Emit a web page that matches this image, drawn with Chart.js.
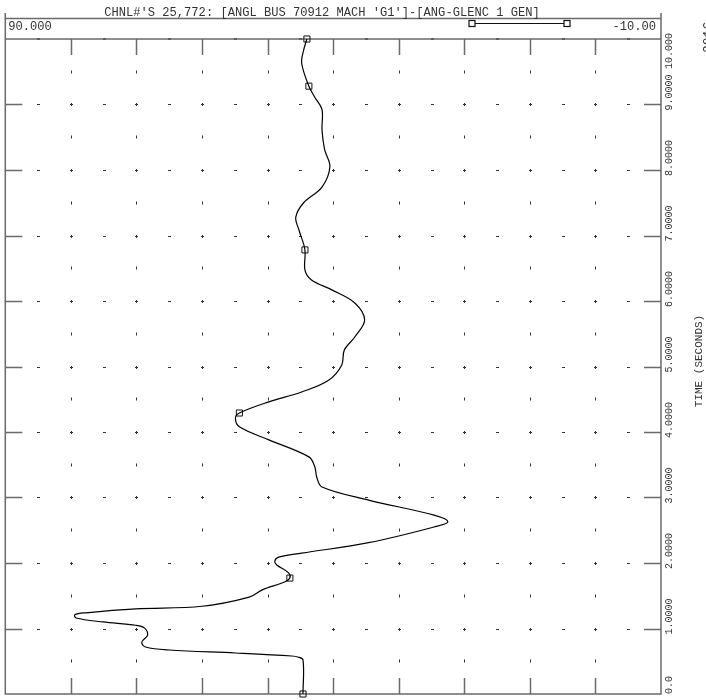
<!DOCTYPE html>
<html>
<head>
<meta charset="utf-8">
<title>ANGL BUS 70912 MACH 'G1'</title>
<script src="https://cdn.jsdelivr.net/npm/chart.js@4.4.1/dist/chart.umd.min.js"></script>
<style>
  html, body { margin: 0; padding: 0; background: #fff; }
  canvas { display: block; }
</style>
</head>
<body>
<canvas id="plot" width="706" height="700"></canvas>
<script>
// Channel 25,772 - rotor angle difference, time runs bottom -> top
const titleText = "CHNL#'S 25,772: [ANGL BUS 70912 MACH 'G1']-[ANG-GLENC 1 GEN]";
const angleMaxLabel = '90.000';
const angleMinLabel = '-10.00';
const timeAxisTitle = 'TIME (SECONDS)';
const stampText = '2016';

// (seconds / degrees)
const timeSec = [0, 0.52, 0.565, 0.58, 0.626, 0.672, 0.718, 0.79, 0.90, 1.01, 1.05, 1.10, 1.16, 1.21, 1.24, 1.30, 1.34, 1.48, 1.59, 1.71, 1.77, 1.85, 1.97, 2.03, 2.09, 2.15, 2.31, 2.55, 2.63, 2.73, 2.96, 3.16, 3.31, 3.47, 3.62, 3.88, 4.08, 4.21, 4.29, 4.46, 4.61, 4.79, 5.02, 5.25, 5.45, 5.71, 5.97, 6.17, 6.32, 6.47, 6.78, 7.08, 7.28, 7.50, 7.74, 8.05, 8.31, 8.61, 8.92, 9.11, 9.28, 9.63, 9.83, 10.0];
const angleDeg = [44.6, 44.6, 45.4, 46.3, 54.9, 65.0, 68.6, 69.2, 68.3, 68.8, 70.1, 75.1, 79.2, 79.4, 77.7, 70.1, 60.0, 52.8, 50.8, 47.4, 46.6, 46.8, 48.6, 48.9, 48.3, 44.8, 34.6, 24.6, 22.5, 24.6, 34.6, 41.7, 42.5, 42.8, 43.7, 49.8, 54.3, 54.9, 54.3, 49.8, 44.8, 40.7, 38.7, 38.3, 36.7, 35.2, 36.7, 40.2, 43.3, 44.3, 44.3, 45.2, 45.7, 44.5, 41.7, 40.5, 41.3, 41.7, 41.7, 42.8, 43.7, 44.8, 44.5, 44.0];

const markerTimeSec = [0, 1.77, 4.29, 6.78, 9.28, 10.0];
const markerAngleDeg = [44.6, 46.6, 54.3, 44.3, 43.7, 44.0];

const timeTicks = [0, 1, 2, 3, 4, 5, 6, 7, 8, 9, 10];
const timeTickLabels = ['0.0', '1.0000', '2.0000', '3.0000', '4.0000', '5.0000', '6.0000', '7.0000', '8.0000', '9.0000', '10.000'];
const timeHalfTicks = [0.5, 1.5, 2.5, 3.5, 4.5, 5.5, 6.5, 7.5, 8.5, 9.5];
const angleMajor = [80, 70, 60, 50, 40, 30, 20, 10, 0];
const angleMinor = [85, 75, 65, 55, 45, 35, 25, 15, 5, -5];

const MONO = '"Liberation Mono", "DejaVu Sans Mono", monospace';
const FRAME = '#6a6a6a';

const plotFrame = {
    id: 'plotFrame',
    beforeDatasetsDraw(chart) {
        const { ctx, chartArea: a, scales: { x, y } } = chart;
        ctx.save();
        ctx.strokeStyle = FRAME;
        ctx.lineWidth = 1.5;

        // outer box + header rule
        ctx.beginPath();
        ctx.moveTo(a.left, 13); ctx.lineTo(a.left, a.bottom);
        ctx.lineTo(a.right, a.bottom); ctx.lineTo(a.right, 13);
        ctx.moveTo(a.left, 18.5); ctx.lineTo(a.right, 18.5);
        ctx.moveTo(a.left, a.top); ctx.lineTo(a.right, a.top);
        ctx.stroke();

        // long ticks on top/bottom edges
        ctx.beginPath();
        angleMajor.forEach(v => {
            const px = Math.round(x.getPixelForValue(v)) + 0.5;
            ctx.moveTo(px, a.top); ctx.lineTo(px, a.top + 16);
            ctx.moveTo(px, a.bottom); ctx.lineTo(px, a.bottom - 16);
        });
        // long ticks on left/right edges
        timeTicks.slice(1, -1).forEach(t => {
            const py = Math.round(y.getPixelForValue(t)) + 0.5;
            ctx.moveTo(a.left, py); ctx.lineTo(a.left + 17, py);
            ctx.moveTo(a.right, py); ctx.lineTo(a.right - 17, py);
        });
        ctx.stroke();

        // interior marks
        ctx.strokeStyle = '#333';
        ctx.lineWidth = 1;
        ctx.beginPath();
        timeTicks.slice(1, -1).forEach(t => {
            const py = Math.round(y.getPixelForValue(t)) + 0.5;
            angleMajor.forEach(v => {
                const px = Math.round(x.getPixelForValue(v)) + 0.5;
                ctx.moveTo(px - 1.5, py); ctx.lineTo(px + 1.5, py);
                ctx.moveTo(px, py - 1.5); ctx.lineTo(px, py + 1.5);
            });
            angleMinor.forEach(v => {
                const px = Math.round(x.getPixelForValue(v)) + 0.5;
                ctx.moveTo(px - 1.5, py); ctx.lineTo(px + 1.5, py);
            });
        });
        timeHalfTicks.forEach(t => {
            const py = Math.round(y.getPixelForValue(t));
            angleMajor.forEach(v => {
                const px = Math.round(x.getPixelForValue(v)) + 0.5;
                ctx.moveTo(px, py - 1.5); ctx.lineTo(px, py + 1.5);
            });
        });
        // small dots on the top edge at the half columns
        angleMinor.forEach(v => {
            const px = Math.round(x.getPixelForValue(v)) + 0.5;
            ctx.moveTo(px - 1.5, a.top); ctx.lineTo(px + 1.5, a.top);
        });
        ctx.stroke();
        ctx.restore();
    },
    afterDraw(chart) {
        const { ctx, chartArea: a, scales: { y } } = chart;
        ctx.save();
        ctx.fillStyle = '#333';

        // header: title, scale ends, legend sample
        ctx.font = '12.1px ' + MONO;
        ctx.textBaseline = 'middle';
        ctx.textAlign = 'center';
        ctx.fillText(titleText, 322, 12.5);
        ctx.textAlign = 'left';
        ctx.fillText(angleMaxLabel, a.left + 3, 27);
        ctx.textAlign = 'right';
        ctx.fillText(angleMinLabel, a.right - 5, 27);

        ctx.strokeStyle = '#111';
        ctx.lineWidth = 1.2;
        ctx.beginPath();
        ctx.moveTo(472, 23.5); ctx.lineTo(567, 23.5);
        ctx.stroke();
        ctx.fillStyle = '#fff';
        [472, 567].forEach(px => {
            ctx.fillRect(px - 3, 20.5, 6, 6);
            ctx.strokeRect(px - 3, 20.5, 6, 6);
        });

        // rotated time labels on the right
        ctx.fillStyle = '#333';
        ctx.font = '10px ' + MONO;
        timeTicks.forEach((t, i) => {
            const py = y.getPixelForValue(t);
            ctx.save();
            if (t === 10) {
                ctx.translate(669, 33);
                ctx.rotate(-Math.PI / 2);
                ctx.textAlign = 'right';
            } else {
                ctx.translate(669, Math.min(py + 6, a.bottom));
                ctx.rotate(-Math.PI / 2);
                ctx.textAlign = 'left';
            }
            ctx.fillText(timeTickLabels[i], 0, 0);
            ctx.restore();
        });

        ctx.font = '11px ' + MONO;
        ctx.save();
        ctx.translate(699, 361);
        ctx.rotate(-Math.PI / 2);
        ctx.textAlign = 'center';
        ctx.fillText(timeAxisTitle, 0, 0);
        ctx.restore();

        // clipped date stamp at the top right
        ctx.font = '13px ' + MONO;
        ctx.save();
        ctx.translate(709, 53);
        ctx.rotate(-Math.PI / 2);
        ctx.textAlign = 'left';
        ctx.fillText(stampText, 0, 0);
        ctx.restore();

        ctx.restore();
    }
};

const curvePoints = timeSec.map((t, i) => ({ x: angleDeg[i], y: t }));
const markerPoints = markerTimeSec.map((t, i) => ({ x: markerAngleDeg[i], y: t }));

new Chart(document.getElementById('plot'), {
    type: 'scatter',
    data: {
        datasets: [
            {
                label: 'ANGL',
                data: curvePoints,
                showLine: true,
                borderColor: '#000',
                borderWidth: 1.2,
                pointRadius: 0,
                tension: 0.35,
                clip: false
            },
            {
                label: 'markers',
                data: markerPoints,
                showLine: false,
                pointStyle: 'rect',
                pointRadius: 4.3,
                borderColor: '#111',
                borderWidth: 1,
                backgroundColor: 'rgba(255,255,255,0)',
                clip: false
            }
        ]
    },
    options: {
        responsive: false,
        animation: false,
        layout: { padding: { left: 2, right: 45, top: 39, bottom: 6 } },
        plugins: { legend: { display: false }, tooltip: { enabled: false } },
        scales: {
            x: { type: 'linear', min: -10, max: 90, reverse: true, display: false },
            y: { type: 'linear', min: 0, max: 10, display: false }
        }
    },
    plugins: [plotFrame]
});
</script>
</body>
</html>
